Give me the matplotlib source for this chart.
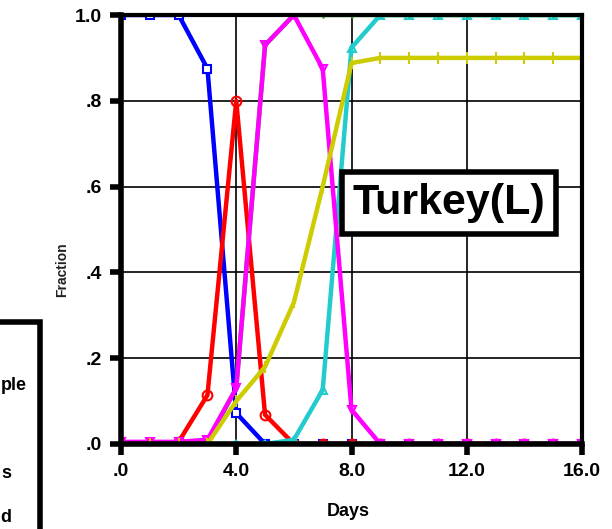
import matplotlib
matplotlib.use("Agg")
import matplotlib.pyplot as plt
from matplotlib.patches import Rectangle

plt.rcParams['font.family'] = ['Liberation Sans', 'DejaVu Sans']
plt.rcParams['font.weight'] = 'bold'

days = list(range(0, 17))

# fractions, one value per day
blue = [1.0, 1.0, 1.0, 0.875, 0.072, 0.0, 0.0, 0.0, 0.0, 0.0, 0.0, 0.0, 0.0, 0.0, 0.0, 0.0, 0.0]
red = [0.0, 0.0, 0.005, 0.114, 0.80, 0.068, 0.0, 0.0, 0.0, 0.0, 0.0, 0.0, 0.0, 0.0, 0.0, 0.0, 0.0]
green = [0.0, 0.0, 0.0, 0.005, 0.13, 0.93, 1.0, 1.0, 1.0, 1.0, 1.0, 1.0, 1.0, 1.0, 1.0, 1.0, 1.0]
magenta = [0.005, 0.005, 0.005, 0.01, 0.13, 0.93, 1.0, 0.875, 0.08, 0.0, 0.0, 0.0, 0.0, 0.0, 0.0, 0.0, 0.0]
cyan = [0.0, 0.0, 0.0, 0.0, 0.0, 0.0, 0.01, 0.126, 0.924, 1.0, 1.0, 1.0, 1.0, 1.0, 1.0, 1.0, 1.0]
yellow = [0.0, 0.0, 0.0, 0.0, 0.10, 0.18, 0.33, 0.60, 0.888, 0.90, 0.90, 0.90, 0.90, 0.90, 0.90, 0.90, 0.90]

x_ticks = [0, 4, 8, 12, 16]
x_labels = ['.0', '4.0', '8.0', '12.0', '16.0']
y_ticks = [0, 0.2, 0.4, 0.6, 0.8, 1.0]
y_labels = ['.0', '.2', '.4', '.6', '.8', '1.0']

fig = plt.figure(figsize=(6.12, 5.29), dpi=100)
ax = fig.add_axes([121 / 612, 1 - 444 / 529, 461 / 612, 429 / 529])

lw = 3.2
ax.plot(days, green, color='#22bb22', lw=lw, marker='v', ms=5, mfc='none', zorder=3)
ax.plot(days, blue, color='#0000ff', lw=lw, marker='s', ms=6, mfc='white', mew=1.5, zorder=4)
ax.plot(days, red, color='#ff0000', lw=lw, marker='o', ms=7, mfc='none', mew=1.5, zorder=5)
ax.plot(days, cyan, color='#22cccc', lw=lw, marker='^', ms=6, mfc='none', mew=1.5, zorder=6)
ax.plot(days, magenta, color='#ff00ff', lw=lw, marker='v', ms=6, mfc='none', mew=1.5, zorder=7)
ax.plot(days, yellow, color='#cccc00', lw=lw, marker='|', ms=9, mew=1.5, zorder=8)

ax.set_xlim(0, 16)
ax.set_ylim(0, 1.0)
ax.set_xticks(x_ticks)
ax.set_xticklabels(x_labels)
ax.set_yticks(y_ticks)
ax.set_yticklabels(y_labels)
ax.tick_params(direction='out', length=8, width=4, labelsize=14, pad=6)
ax.grid(True, color='black', lw=1.2)
ax.set_axisbelow(True)
for s in ax.spines.values():
    s.set_linewidth(4)
    s.set_zorder(10)
ax.spines['top'].set_linewidth(3)
ax.spines['right'].set_linewidth(3)

fig.text(348 / 612, 1 - 512 / 529, 'Days', ha='center', va='center', fontsize=13)
fig.text(62 / 612, 1 - 270 / 529, 'Fraction', ha='center', va='center',
         rotation=90, fontsize=10, color='#222222')

# label box
fig.text(449 / 612, 1 - 203 / 529, 'Turkey(L)', ha='center', va='center', fontsize=31,
         bbox=dict(boxstyle='square,pad=0.25', fc='white', ec='black', lw=4), zorder=20)

# legend box cut off by the left edge: only these pieces show
fig.patches.append(Rectangle((-60 / 612, -40 / 529), 100 / 612, (529 - 322 + 40) / 529,
                             transform=fig.transFigure, fill=False, ec='black', lw=4))
fig.text(1 / 612, 1 - 385 / 529, 'ple', ha='left', va='center', fontsize=13)
fig.text(1 / 612, 1 - 473 / 529, 's', ha='left', va='center', fontsize=13)
fig.text(0, 1 - 517 / 529, 'd', ha='left', va='center', fontsize=13)

fig.savefig('out.png', dpi=100)
